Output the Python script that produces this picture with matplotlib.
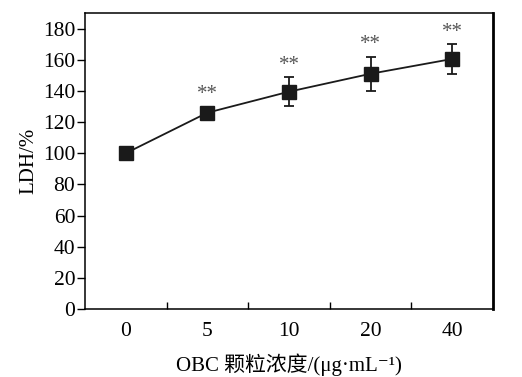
import matplotlib
matplotlib.use("Agg")
import matplotlib.pyplot as plt

categories = ["0", "5", "10", "20", "40"]
ldh = [100, 126, 139.5, 151, 160.5]
err = [0, 2, 9.5, 11, 9.5]
sig = ["", "**", "**", "**", "**"]
yticks = [0, 20, 40, 60, 80, 100, 120, 140, 160, 180]

plt.rcParams['font.family'] = ['Liberation Serif', 'Noto Sans CJK SC', 'DejaVu Serif']

fig = plt.figure(figsize=(5.22, 3.77), dpi=100)
ax = fig.add_axes([85/522, 1-309/377, (493-85)/522, (309-13)/377])

x = list(range(len(categories)))
ax.errorbar(x, ldh, yerr=err, fmt='s-', color='#1a1a1a', ecolor='#1a1a1a',
            markersize=9.5, linewidth=1.3, elinewidth=1.3, capsize=3.5, capthick=1.3)
for xi, yi, e, s in zip(x, ldh, err, sig):
    if s:
        ax.text(xi, yi + max(e, 4) + 1.5, s, ha='center', va='bottom',
                fontsize=15, color='#555555')

ax.set_xlim(-0.5, len(categories) - 0.5)
ax.set_ylim(0, 190)
ax.set_yticks(yticks)
ax.set_yticklabels([str(t) for t in yticks], fontsize=15.5)
ax.set_xticks([i + 0.5 for i in range(len(categories) - 1)])
ax.set_xticklabels([])
ax.tick_params(axis='x', direction='in', length=5, width=1)
ax.tick_params(axis='y', direction='out', length=6, width=1, pad=1)
ax.set_xticks(x, minor=True)
ax.set_xticklabels(categories, minor=True, fontsize=15.5)
ax.tick_params(axis='x', which='minor', length=0, pad=9)
for sp in ax.spines.values():
    sp.set_linewidth(1.1)
ax.spines['right'].set_linewidth(2)

ax.set_ylabel('LDH/%', fontsize=15, labelpad=3)
ax.set_xlabel('OBC 颗粒浓度/(μg·mL⁻¹)', fontsize=15, labelpad=9)

fig.savefig('out.png', dpi=100)
